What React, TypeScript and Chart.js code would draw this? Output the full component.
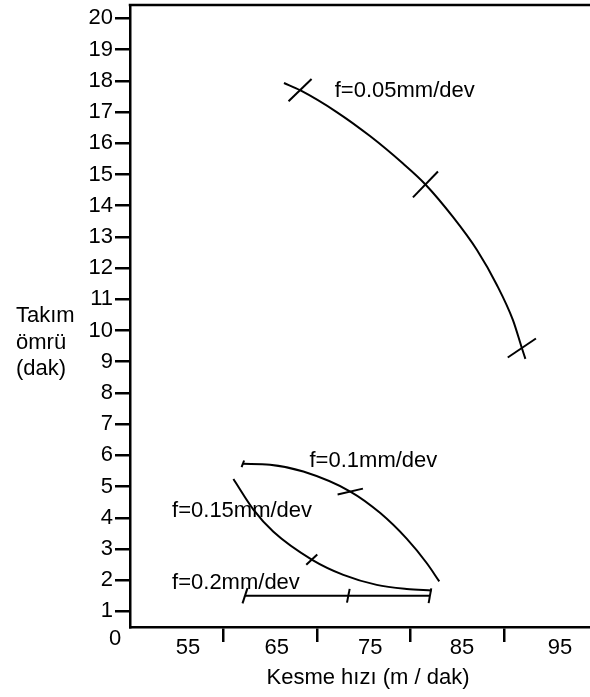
import React, { useEffect, useRef } from "react";
import { Chart, registerables } from "chart.js";

Chart.register(...registerables);

// ---- axis data ----
const yTickValues = [1, 2, 3, 4, 5, 6, 7, 8, 9, 10, 11, 12, 13, 14, 15, 16, 17, 18, 19, 20];
const xTickMarks = [60, 70, 80, 90];
const xTickLabels = ["55", "65", "75", "85", "95"];
const xTickLabelAt = [56.2, 65.7, 75.7, 85.5, 96.0];

// ---- series data (cutting speed m/dak, tool life dak) ----
const f005Speed = [66.47, 68.19, 72.11, 75.67, 79.2, 81.6, 84.54, 87.11, 89.24, 90.95, 91.91, 92.29];
const f005Life = [17.93, 17.7, 17.0, 16.23, 15.35, 14.68, 13.64, 12.58, 11.46, 10.34, 9.44, 9.09];
const f005Marks = [0, 1, 0, 0, 0, 1, 0, 0, 0, 0, 1, 0];

const f01Speed = [62.07, 64.98, 68.54, 73.56, 76.77, 79.59, 81.73, 83.08];
const f01Life = [5.73, 5.7, 5.48, 4.84, 4.15, 3.33, 2.55, 1.96];
const f01Marks = [1, 0, 0, 1, 0, 0, 0, 0];

const f015Speed = [61.06, 63.2, 65.34, 69.44, 72.82, 76.39, 79.59, 82.26];
const f015Life = [5.24, 4.26, 3.55, 2.66, 2.17, 1.85, 1.72, 1.67];
const f015Marks = [0, 0, 0, 1, 0, 0, 0, 0];

const f02Speed = [62.3, 73.35, 82.08];
const f02Life = [1.5, 1.5, 1.5];
const f02Marks = [1, 1, 1];

// ---- series labels ----
const seriesNames = ["f=0.05mm/dev", "f=0.1mm/dev", "f=0.15mm/dev", "f=0.2mm/dev"];
const seriesLabelX = [71.9, 69.2, 54.5, 54.5];
const seriesLabelY = [17.49, 5.64, 4.04, 1.72];

// ---- marker styles (kept apart from data) ----
const f005MarkSize = [16, 18, 17];
const f005MarkRot = [-44, -46, -34];
const f01MarkSize = [3.5, 13];
const f01MarkRot = [-69, -13];
const f015MarkSize = [7.5];
const f015MarkRot = [-43];
const f02MarkSize = [8, 7, 7.5];
const f02MarkRot = [-72, -79, -80];

const FONT_FAMILY = "'Liberation Sans', Arial, sans-serif";
const FONT_SIZE = 22;

function buildDataset(speed: number[], life: number[], marks: number[], sizes: number[], rots: number[], curved: boolean) {
  const radius: number[] = [];
  const rotation: number[] = [];
  let k = 0;
  marks.forEach((m) => {
    if (m) {
      radius.push(sizes[k]);
      rotation.push(rots[k]);
      k++;
    } else {
      radius.push(0);
      rotation.push(0);
    }
  });
  return {
    data: speed.map((s, i) => ({ x: s, y: life[i] })),
    borderColor: "#000",
    borderWidth: 2,
    fill: false,
    tension: curved ? 0.4 : 0,
    cubicInterpolationMode: curved ? ("monotone" as const) : ("default" as const),
    pointStyle: "line" as const,
    pointRadius: radius,
    pointRotation: rotation,
    pointBorderColor: "#000",
    pointBorderWidth: 2,
    pointBackgroundColor: "#000",
    clip: false as const,
  };
}

const decorPlugin = {
  id: "decor",
  afterDraw(chart: any) {
    const ctx = chart.ctx as CanvasRenderingContext2D;
    const { left, right, top, bottom } = chart.chartArea;
    const xs = chart.scales.x;
    const ys = chart.scales.y;
    ctx.save();
    // top frame line
    ctx.strokeStyle = "#000";
    ctx.lineWidth = 2.5;
    ctx.beginPath();
    ctx.moveTo(left - 1.25, top);
    ctx.lineTo(right, top);
    ctx.stroke();

    ctx.fillStyle = "#000";
    ctx.font = `${FONT_SIZE}px ${FONT_FAMILY}`;

    // x tick labels
    ctx.textAlign = "center";
    ctx.textBaseline = "middle";
    xTickLabels.forEach((lab, i) => {
      ctx.fillText(lab, xs.getPixelForValue(xTickLabelAt[i]), bottom + 21);
    });
    // origin "0"
    ctx.fillText("0", left - 15, ys.getPixelForValue(0) - 4);

    // x title
    ctx.fillText("Kesme hızı (m / dak)", 368, bottom + 51);

    // y title
    ctx.textAlign = "left";
    ctx.textBaseline = "alphabetic";
    ctx.fillText("Takım", 16, 322);
    ctx.fillText("ömrü", 16, 348.5);
    ctx.fillText("(dak)", 16, 375);

    // series labels
    seriesNames.forEach((name, i) => {
      ctx.fillText(name, xs.getPixelForValue(seriesLabelX[i]), ys.getPixelForValue(seriesLabelY[i]));
    });
    ctx.restore();
  },
};

export default function App() {
  const ref = useRef<HTMLCanvasElement | null>(null);
  useEffect(() => {
    if (!ref.current) return;
    const chart = new Chart(ref.current, {
      type: "line",
      data: {
        datasets: [
          buildDataset(f005Speed, f005Life, f005Marks, f005MarkSize, f005MarkRot, true),
          buildDataset(f01Speed, f01Life, f01Marks, f01MarkSize, f01MarkRot, true),
          buildDataset(f015Speed, f015Life, f015Marks, f015MarkSize, f015MarkRot, true),
          buildDataset(f02Speed, f02Life, f02Marks, f02MarkSize, f02MarkRot, false),
        ] as any,
      },
      options: {
        responsive: false,
        animation: false,
        events: [],
        devicePixelRatio: 1,
        layout: { autoPadding: false, padding: { top: 5, right: 0, left: 0, bottom: 0 } },
        plugins: { legend: { display: false }, tooltip: { enabled: false } },
        scales: {
          x: {
            type: "linear",
            min: 50,
            max: 99.2,
            afterBuildTicks: (s: any) => {
              s.ticks = xTickMarks.map((v) => ({ value: v }));
            },
            afterFit: (s: any) => {
              s.height = 70;
              s.paddingLeft = 0;
              s.paddingRight = 0;
              s.paddingTop = 0;
              s.paddingBottom = 0;
            },
            ticks: { callback: () => "", padding: 0 },
            grid: {
              drawOnChartArea: false,
              drawTicks: true,
              tickLength: 15,
              color: "#000",
              lineWidth: 2.5,
            },
            border: { display: true, color: "#000", width: 2.5 },
          },
          y: {
            type: "linear",
            min: 0.5,
            max: 20.43,
            afterBuildTicks: (s: any) => {
              s.ticks = yTickValues.map((v) => ({ value: v }));
            },
            afterFit: (s: any) => {
              s.width = 130;
              s.paddingLeft = 0;
              s.paddingRight = 0;
              s.paddingTop = 0;
              s.paddingBottom = 0;
            },
            ticks: {
              color: "#000",
              padding: 2,
              font: { family: FONT_FAMILY, size: FONT_SIZE },
              callback: (v: any) => String(v),
            },
            grid: {
              drawOnChartArea: false,
              drawTicks: true,
              tickLength: 15,
              color: "#000",
              lineWidth: 2.5,
            },
            border: { display: true, color: "#000", width: 2.5 },
          },
        },
      },
      plugins: [decorPlugin],
    });
    return () => chart.destroy();
  }, []);
  return (
    <div style={{ position: "absolute", left: 0, top: 0, width: 590, height: 697, background: "#fff" }}>
      <canvas ref={ref} width={590} height={697} style={{ display: "block" }} />
    </div>
  );
}
